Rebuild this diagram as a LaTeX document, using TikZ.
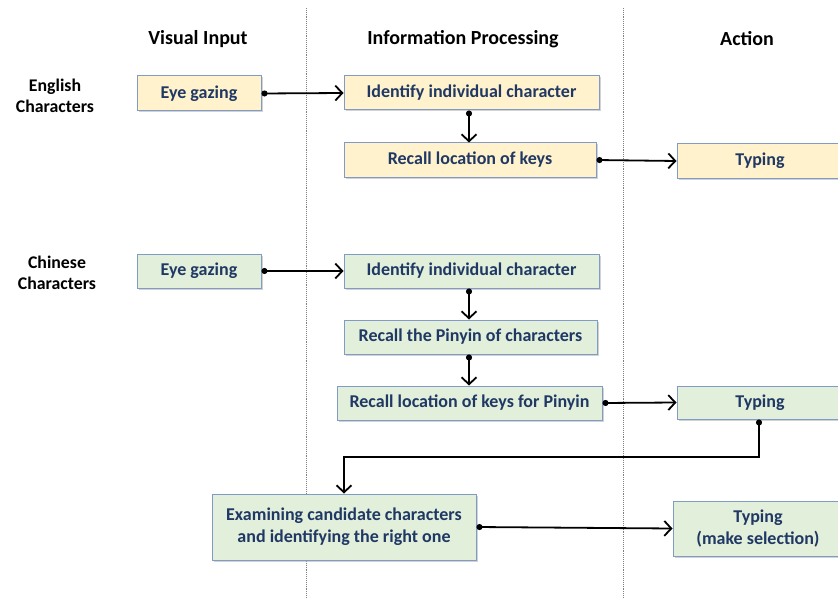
\documentclass[tikz,border=0pt]{standalone}
\usepackage{fontspec}
\setmainfont{Carlito}
\usetikzlibrary{arrows.meta,shadows}
\definecolor{txtblue}{HTML}{1F3864}
\definecolor{boxedge}{HTML}{7F9BC6}
\definecolor{yel}{HTML}{FFF2CC}
\definecolor{grn}{HTML}{E2EFDA}
\tikzset{
  box/.style={draw=boxedge, line width=1pt, rectangle, inner sep=0pt, align=center,
    text=txtblue, font=\fontsize{18}{22}\selectfont\bfseries,
    drop shadow={shadow xshift=1.5pt, shadow yshift=-1.5pt, fill=black!35, opacity=0.5}},
  ybox/.style={box, fill=yel},
  gbox/.style={box, fill=grn},
  head/.style={font=\fontsize{20}{24}\selectfont\bfseries, text=black},
  rowlab/.style={font=\fontsize{17.8}{21}\selectfont\bfseries, text=black, align=center},
  conn/.style={line width=1.8pt, black, {Circle[length=6pt]}-{Straight Barb[length=7pt,width=15pt,line width=1.8pt]}},
  sep/.style={densely dotted, black!50, line width=0.9pt}
}
\begin{document}
\begin{tikzpicture}[x=1pt,y=-1pt]
\clip (0,0) rectangle (838,599);
\fill[white] (0,0) rectangle (838,599);
% separators
\draw[sep] (306,8) -- (306,599);
\draw[sep] (623,8) -- (623,599);
% headers
\node[head] (h1) at (198,39) {Visual Input};
\node[head] (h2) at (463,39) {Information Processing};
\node[head] (h3) at (747,39) {Action};
% row labels
\node[rowlab] (l1) at (55,96) {English\\Characters};
\node[rowlab] (l2) at (57,273) {Chinese\\Characters};
% English row
\node[ybox, minimum width=124pt, minimum height=35pt] (e1) at (199,93.5) {Eye gazing};
\node[ybox, minimum width=255pt, minimum height=34pt] (e2) at (471.5,93) {Identify individual character};
\node[ybox, minimum width=252pt, minimum height=34pt] (e3) at (470,160) {Recall location of keys};
\node[ybox, minimum width=166pt, minimum height=34pt] (e4) at (760,161) {Typing};
% Chinese row
\node[gbox, minimum width=124pt, minimum height=34pt] (c1) at (199,271) {Eye gazing};
\node[gbox, minimum width=255pt, minimum height=34pt] (c2) at (471.5,271) {Identify individual character};
\node[gbox, minimum width=253pt, minimum height=34pt] (c3) at (470.5,337) {Recall the Pinyin of characters};
\node[gbox, minimum width=265pt, minimum height=34pt] (c4) at (469.5,403) {Recall location of keys for Pinyin};
\node[gbox, minimum width=166pt, minimum height=33pt] (c5) at (760,402.5) {Typing};
\node[gbox, minimum width=264pt, minimum height=66pt] (c6) at (344,527) {Examining candidate characters\\and identifying the right one};
\node[gbox, minimum width=170pt, minimum height=55pt] (c7) at (758,528.5) {Typing\\(make selection)};
% connectors
\draw[conn] (e1.east) -- (e2.west);
\draw[conn] (e2.south -| 469,0) -- (e3.north -| 469,0);
\draw[conn] (e3.east) -- (e4.west);
\draw[conn] (c1.east) -- (c2.west);
\draw[conn] (c2.south -| 469,0) -- (c3.north -| 469,0);
\draw[conn] (c3.south -| 469,0) -- (c4.north -| 469,0);
\draw[conn] (c4.east) -- (c5.west);
\coordinate (k1) at (759,457);
\coordinate (k2) at (344,457);
\draw[conn] (c5.south -| k1) -- (k1) -- (k2) -- (c6.north);
\draw[conn] (c6.east) -- (c7.west);
\end{tikzpicture}
\end{document}
